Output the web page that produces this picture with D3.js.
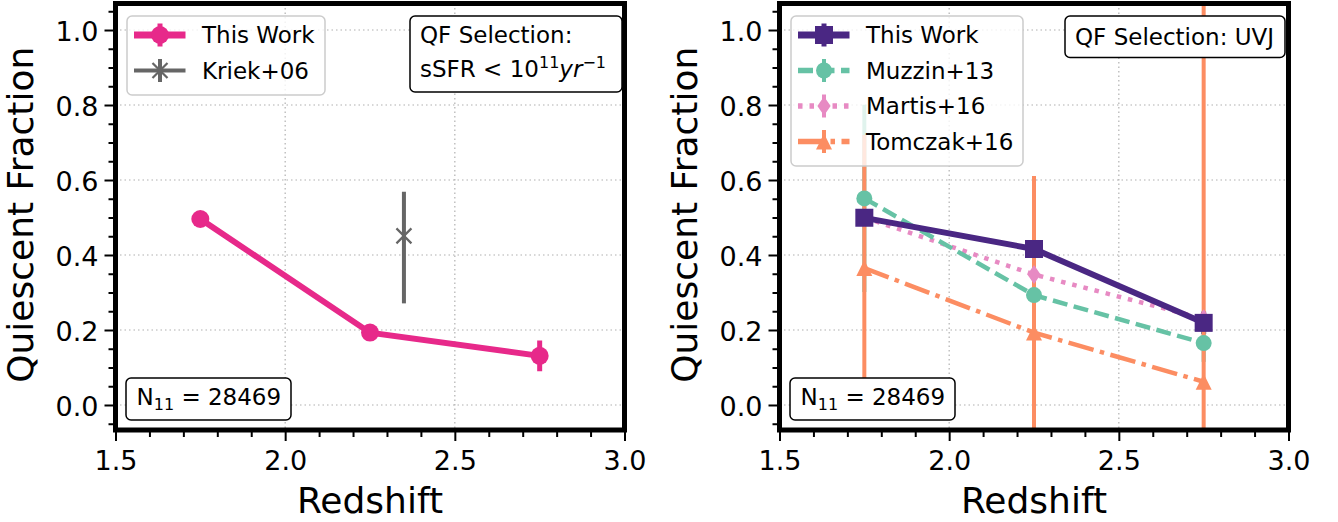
<!DOCTYPE html>
<html>
<head>
<meta charset="utf-8">
<script src="https://cdn.jsdelivr.net/npm/d3@7"></script>
<style>
  body { margin: 0; background: #fff; }
  text { font-family: "DejaVu Sans", sans-serif; }
</style>
</head>
<body>
<svg id="chart" width="1338" height="522"></svg>
<script>
// values
const redshift = [1.75, 2.25, 2.75];

const thisWorkSSFR = [0.496, 0.193, 0.131];
const thisWorkSSFRErr = [0.01, 0.01, 0.041];
const kriekZ = [2.35];
const kriekQF = [0.451];
const kriekErrLow = [0.18];
const kriekErrHigh = [0.118];

const thisWorkUVJ = [0.499, 0.416, 0.219];
const thisWorkUVJErr = [0.01, 0.01, 0.03];
const muzzin = [0.551, 0.293, 0.165];
const muzzinErr = [0.25, 0.1, 0.05];
const martis = [0.50, 0.348, 0.23];
const martisErr = [0, 0, 0];
const tomczak = [0.365, 0.193, 0.062];
const tomczakErr = [0.355, 0.418, 1.1];

const xTicks = [1.5, 2.0, 2.5, 3.0];
const yTicks = [0.0, 0.2, 0.4, 0.6, 0.8, 1.0];
const nLabel = "28469";

const svg = d3.select("#chart");
const plotTop = 3.5, plotBottom = 430, panelW = 509;

    // marker shapes, s = full size in px
function markerPath(type, s) {
    const h = s / 2;
    if (type === "circle") return d3.symbol(d3.symbolCircle, Math.PI * h * h)();
    if (type === "square") return `M${-h},${-h}H${h}V${h}H${-h}Z`;
    if (type === "diamond") return `M0,${-h}L${0.7 * h},0L0,${h}L${-0.7 * h},0Z`;
    if (type === "triangle") return `M0,${-h}L${h},${h}L${-h},${h}Z`;
    if (type === "x") return `M${-h},${-h}L${h},${h}M${-h},${h}L${h},${-h}`;
}

function drawMarker(g, type, s, color, cx, cy) {
    const p = g.append("path")
            .attr("d", markerPath(type, s))
            .attr("transform", `translate(${cx},${cy})`);
    if (type === "x") p.attr("fill", "none").attr("stroke", color).attr("stroke-width", 2.2);
    else p.attr("fill", color);
}

function drawPanel(id, left, series, qfLines, qfBox, legendW) {
    const x = d3.scaleLinear().domain([1.5, 3.0]).range([left, left + panelW]);
    const y = d3.scaleLinear().domain([-0.0667, 1.0707]).range([plotBottom, plotTop]);
    const g = svg.append("g");

        // grid
    g.selectAll("gx").data(xTicks).enter().append("line")
            .attr("x1", d => x(d)).attr("x2", d => x(d))
            .attr("y1", plotTop).attr("y2", plotBottom)
            .attr("stroke", "#b0b0b0").attr("stroke-width", 1.2)
            .attr("stroke-dasharray", "1.5,3");
    g.selectAll("gy").data(yTicks).enter().append("line")
            .attr("x1", left).attr("x2", left + panelW)
            .attr("y1", d => y(d)).attr("y2", d => y(d))
            .attr("stroke", "#b0b0b0").attr("stroke-width", 1.2)
            .attr("stroke-dasharray", "1.5,3");

    svg.append("clipPath").attr("id", "clip" + id)
            .append("rect").attr("x", left).attr("y", plotTop)
            .attr("width", panelW).attr("height", plotBottom - plotTop);
    const plot = g.append("g").attr("clip-path", `url(#clip${id})`);

        // error bars first, then lines and markers (first series on top)
    series.forEach(s => {
        s.x.forEach((zv, i) => {
            const lo = s.lo[i], hi = s.hi[i];
            if (!lo && !hi) return;
            plot.append("line")
                    .attr("x1", x(zv)).attr("x2", x(zv))
                    .attr("y1", y(s.y[i] - lo)).attr("y2", y(s.y[i] + hi))
                    .attr("stroke", s.color).attr("stroke-width", s.errWidth);
        });
    });
    series.slice().reverse().forEach(s => {
        if (s.line) {
            const line = d3.line().x(d => x(d[0])).y(d => y(d[1]));
            plot.append("path")
                    .datum(s.x.map((zv, i) => [zv, s.y[i]]))
                    .attr("d", line)
                    .attr("fill", "none")
                    .attr("stroke", s.color)
                    .attr("stroke-width", s.width)
                    .attr("stroke-dasharray", s.dash || null);
        }
        s.x.forEach((zv, i) => drawMarker(plot, s.marker, s.msize, s.color, x(zv), y(s.y[i])));
    });

        // frame
    g.append("rect")
            .attr("x", left).attr("y", plotTop)
            .attr("width", panelW).attr("height", plotBottom - plotTop)
            .attr("fill", "none").attr("stroke", "#000").attr("stroke-width", 5);

        // axes (ticks outward, left and bottom only)
    const xMinor = d3.range(15, 31).map(v => v / 10).filter(v => !xTicks.some(t => Math.abs(t - v) < 1e-6));
    const yMinor = d3.range(-1, 22).map(v => v / 20).filter(v => !yTicks.some(t => Math.abs(t - v) < 1e-6));

    const xa = g.append("g").attr("transform", `translate(0,${plotBottom})`)
            .call(d3.axisBottom(x).tickValues(xTicks).tickFormat(d3.format(".1f")).tickSize(11).tickPadding(10));
    const xm = g.append("g").attr("transform", `translate(0,${plotBottom})`)
            .call(d3.axisBottom(x).tickValues(xMinor).tickFormat("").tickSize(7));
    const ya = g.append("g").attr("transform", `translate(${left},0)`)
            .call(d3.axisLeft(y).tickValues(yTicks).tickFormat(d3.format(".1f")).tickSize(11).tickPadding(6));
    const ym = g.append("g").attr("transform", `translate(${left},0)`)
            .call(d3.axisLeft(y).tickValues(yMinor).tickFormat("").tickSize(7));
    [xa, xm, ya, ym].forEach(a => {
        a.select(".domain").remove();
        a.selectAll(".tick line").attr("stroke", "#000").attr("stroke-width", 2);
        a.selectAll(".tick text").attr("fill", "#000").style("font-size", "27px")
                .style("font-family", "DejaVu Sans");
    });
    ya.selectAll(".tick text").attr("dy", "0.38em");

        // axis labels
    g.append("text")
            .attr("x", left + panelW / 2).attr("y", 513)
            .attr("text-anchor", "middle")
            .style("font-size", "36px")
            .text("Redshift");
    g.append("text")
            .attr("transform", `translate(${left - 83},${(plotTop + plotBottom) / 2 - 2}) rotate(-90)`)
            .attr("text-anchor", "middle")
            .style("font-size", "36px")
            .text("Quiescent Fraction");

        // legend
    const lg = g.append("g");
    const rowH = 35.5;
    lg.append("rect")
            .attr("x", left + 11.5).attr("y", 16)
            .attr("width", legendW)
            .attr("height", series.length * rowH + 8)
            .attr("rx", 5)
            .attr("fill", "#fff").attr("fill-opacity", 0.8)
            .attr("stroke", "#cccccc").attr("stroke-width", 1.5);
    series.forEach((s, i) => {
        const cy = 35 + i * rowH;
        lg.append("line")
                .attr("x1", left + 18.5).attr("x2", left + 70)
                .attr("y1", cy).attr("y2", cy)
                .attr("stroke", s.color)
                .attr("stroke-width", s.line ? s.width + 1 : s.errWidth)
                .attr("stroke-dasharray", s.dash || null);
        lg.append("line")
                .attr("x1", left + 44.5).attr("x2", left + 44.5)
                .attr("y1", cy - 11.5).attr("y2", cy + 11.5)
                .attr("stroke", s.color).attr("stroke-width", s.errWidth);
        drawMarker(lg, s.marker, s.msize, s.color, left + 44.5, cy);
        lg.append("text")
                .attr("x", left + 86.5).attr("y", cy + 8.4)
                .style("font-size", "23px")
                .text(s.label);
    });

        // QF selection box
    g.append("rect")
            .attr("x", left + qfBox[0]).attr("y", 16)
            .attr("width", qfBox[1]).attr("height", qfBox[2])
            .attr("rx", 5)
            .attr("fill", "#fff").attr("stroke", "#000").attr("stroke-width", 1.5);
    qfLines(g.append("text").style("font-size", "23px"), left + qfBox[0] + 10);

        // N11 box
    g.append("rect")
            .attr("x", left + 10.5).attr("y", 378)
            .attr("width", 165).attr("height", 42)
            .attr("rx", 5)
            .attr("fill", "#fff").attr("stroke", "#000").attr("stroke-width", 1.5);
    const nt = g.append("text")
            .attr("x", left + 21).attr("y", 405)
            .style("font-size", "23px");
    nt.append("tspan").text("N");
    nt.append("tspan").attr("dy", 5).style("font-size", "16px").text("11");
    nt.append("tspan").attr("dy", -5).text(" = " + nLabel);
}

    // left panel : sSFR selection
drawPanel("L", 115.5, [
    { label: "This Work", x: redshift, y: thisWorkSSFR, lo: thisWorkSSFRErr, hi: thisWorkSSFRErr,
      color: "#e7298a", line: true, width: 6, errWidth: 5, marker: "circle", msize: 18 },
    { label: "Kriek+06", x: kriekZ, y: kriekQF, lo: kriekErrLow, hi: kriekErrHigh,
      color: "#666666", line: false, width: 4, errWidth: 4, marker: "x", msize: 15 }
], (t, tx) => {
    t.append("tspan").attr("x", tx).attr("y", 43.4).text("QF Selection:");
    t.append("tspan").attr("x", tx).attr("y", 76.5).text("sSFR < 10");
    t.append("tspan").attr("dy", -9).style("font-size", "16px").text("11");
    t.append("tspan").attr("dy", 9).style("font-style", "italic").text("yr");
    t.append("tspan").attr("dy", -9).style("font-size", "16px").text("\u22121");
}, [294.5, 212, 76], 198);

    // right panel : UVJ selection
drawPanel("R", 779.5, [
    { label: "This Work", x: redshift, y: thisWorkUVJ, lo: thisWorkUVJErr, hi: thisWorkUVJErr,
      color: "#4a2783", line: true, width: 6, errWidth: 5, marker: "square", msize: 18 },
    { label: "Muzzin+13", x: redshift, y: muzzin, lo: muzzinErr, hi: muzzinErr,
      color: "#66c2a5", line: true, width: 4.5, dash: "15,6.5", errWidth: 4, marker: "circle", msize: 16 },
    { label: "Martis+16", x: redshift, y: martis, lo: martisErr, hi: martisErr,
      color: "#e78ac3", line: true, width: 4.5, dash: "4.5,7", errWidth: 4, marker: "diamond", msize: 19 },
    { label: "Tomczak+16", x: redshift, y: tomczak, lo: tomczakErr, hi: tomczakErr,
      color: "#fc8d62", line: true, width: 4.5, dash: "26,6.5,4.5,6.5", errWidth: 4, marker: "triangle", msize: 16 }
], (t, tx) => {
    t.append("tspan").attr("x", tx).attr("y", 45.4).text("QF Selection: UVJ");
}, [285.5, 220, 41.5], 232);
</script>
</body>
</html>
